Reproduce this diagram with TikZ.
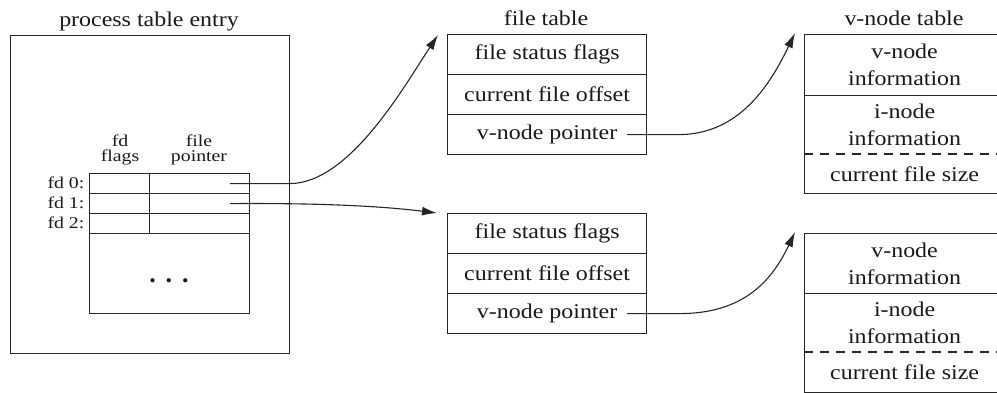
\documentclass[tikz,border=0pt]{standalone}
\usepackage{fontspec}
\setmainfont{Liberation Serif}
\newfontfamily\bigfam[FakeStretch=1.14]{Liberation Serif}
\newfontfamily\smallfam[FakeStretch=1.2]{Liberation Serif}
\usetikzlibrary{arrows.meta,calc}
\begin{document}
\begin{tikzpicture}[x=1pt,y=-1pt,line width=1.2pt,draw=black!85,
  every node/.style={inner sep=0pt,text=black!90},
  big/.style={font=\bigfam\fontsize{21}{27}\selectfont},
  small/.style={font=\smallfam\fontsize{16.5}{15}\selectfont},
  cell/.style={draw,anchor=north west,big},
  ftcell/.style={cell,minimum width=199pt,minimum height=40pt},
  vcell/.style={cell,minimum width=200pt,minimum height=60pt,align=center},
  pcell/.style={draw,anchor=north west,minimum height=20pt},
  arr/.style={-{Latex[length=15pt,width=9pt]},line width=1.1pt,black!85}]
\useasboundingbox (0,0) rectangle (997,393);
% process table entry
\node[big,anchor=base] (ptitle) at (149,27) {process table entry};
\node[draw,anchor=north west,minimum width=279pt,minimum height=318pt] (proc) at (10,35) {};
\node[small,align=center,anchor=base] (hflags) at (120,162) {fd\\flags};
\node[small,align=center,anchor=base] (hptr) at (199,162) {file\\pointer};
\foreach \i/\y in {0/173,1/193,2/213}{
  \node[pcell,minimum width=60pt] (fl\i) at (89,\y) {};
  \node[pcell,minimum width=100pt] (fp\i) at (149,\y) {};
  \node[small,anchor=east] (fd\i) at (85,\y+10) {fd \i:};
}
\node[draw,anchor=north west,minimum width=160pt,minimum height=80pt] (rest) at (89,233) {};
\node[font=\fontsize{26}{26}\bfseries,anchor=base] (dots) at (169,283) {.\hspace{10pt}.\hspace{10pt}.};
% file table
\node[big,anchor=base] (ftitle) at (546,26) {file table};
\node[ftcell] (fa1) at (447,34) {file status flags};
\node[ftcell] (fa2) at (447,74) {current file offset};
\node[ftcell] (fa3) at (447,114) {v-node pointer\hspace{22pt}};
\node[ftcell] (fb1) at (447,213) {file status flags};
\node[ftcell] (fb2) at (447,253) {current file offset};
\node[ftcell] (fb3) at (447,293) {v-node pointer\hspace{22pt}};
% v-node table
\node[big,anchor=base] (vtitle) at (904,26) {v-node table};
\node[vcell,minimum height=61pt] (va1) at (804,34) {v-node\\information};
\node[vcell,minimum height=59pt] (va2) at (804,95) {i-node\\information};
\node[vcell,minimum height=39pt] (va3) at (804,154) {current file size};
\node[vcell] (vb1) at (804,233) {v-node\\information};
\node[vcell,minimum height=59pt] (vb2) at (804,293) {i-node\\information};
\node[vcell,minimum height=40pt] (vb3) at (804,352) {current file size};
\draw[line width=1.6pt,white] (va3.north west)++(1,0) -- (va3.north east);
\draw[line width=1.6pt,white] (vb3.north west)++(1,0) -- (vb3.north east);
\draw[dash pattern=on 9pt off 7pt] (va3.north west) -- (va3.north east);
\draw[dash pattern=on 9pt off 7pt] (vb3.north west) -- (vb3.north east);
% connector ends
\coordinate (s0) at ($(fp0.east)+(-20,0)$);
\coordinate (s1) at ($(fp1.east)+(-20,0)$);
\coordinate (sa) at ($(fa3.east)+(-20,0)$);
\coordinate (sb) at ($(fb3.east)+(-20,0)$);
\coordinate (t0) at ($(fa1.north west)+(-9,1)$);
\coordinate (t1) at ($(fb1.north west)+(-10,0)$);
\coordinate (ta) at ($(va1.north west)+(-9,-1)$);
\coordinate (tb) at ($(vb1.north west)+(-9,-1)$);
\draw[arr] (s0) -- (proc.east |- s0) .. controls (350,183) and (405,85) .. (t0);
\draw[arr] (s1) .. controls (320,203) and (380,206) .. (t1);
\draw[arr] (sa) -- ($(sa)+(54,0)$) .. controls (740,133) and (770,85) .. (ta);
\draw[arr] (sb) -- ($(sb)+(54,0)$) .. controls (740,313) and (770,285) .. (tb);
\end{tikzpicture}
\end{document}
